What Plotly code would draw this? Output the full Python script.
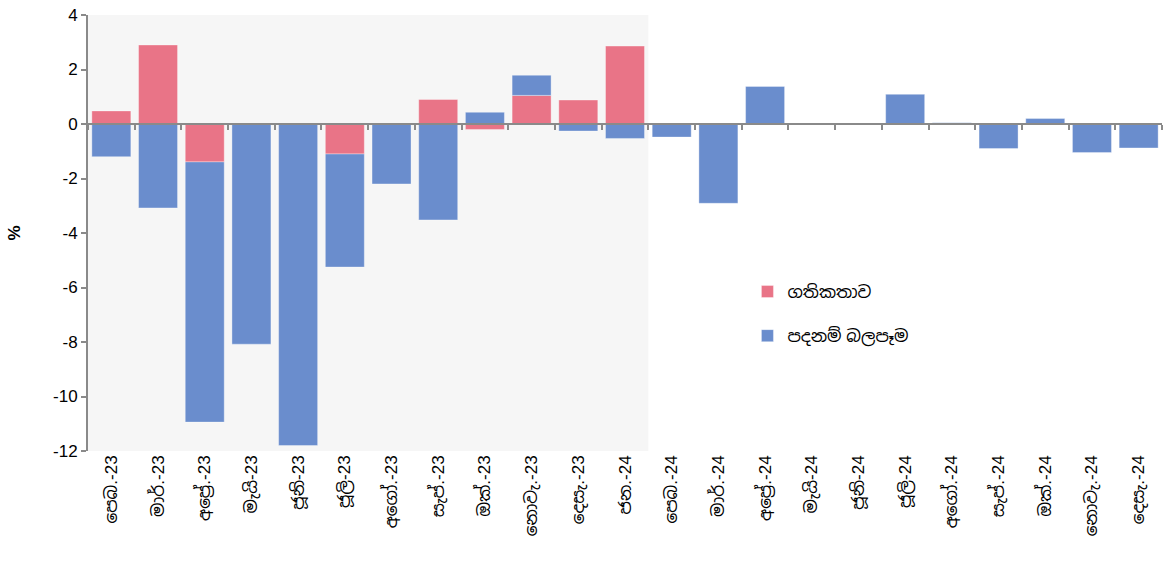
import plotly.graph_objects as go

months = [
    "පෙබ.-23", "මාර්.-23", "අප්‍රේ.-23", "මැයි-23", "ජූනි-23", "ජූලි-23",
    "අගෝ.-23", "සැප්.-23", "ඔක්.-23", "නොවැ.-23", "දෙසැ.-23", "ජන.-24",
    "පෙබ.-24", "මාර්.-24", "අප්‍රේ.-24", "මැයි-24", "ජූනි-24", "ජූලි-24",
    "අගෝ.-24", "සැප්.-24", "ඔක්.-24", "නොවැ.-24", "දෙසැ.-24",
]
momentum = [0.48, 2.9, -1.39, 0.0, 0.0, -1.1, 0.0, 0.9, -0.2, 1.05, 0.88, 2.86,
            0, 0, 0, 0, 0, 0, 0, 0, 0, 0, 0]
base_effect = [-1.2, -3.08, -9.55, -8.08, -11.8, -4.15, -2.2, -3.52, 0.43, 0.74, -0.26, -0.53,
               -0.48, -2.91, 1.38, 0.0, 0.0, 1.09, 0.05, -0.9, 0.2, -1.05, -0.88]
legend_names = ["ගතිකතාව", "පදනම් බලපෑම"]
y_ticks = [4, 2, 0, -2, -4, -6, -8, -10, -12]

FONT = "Arial, Liberation Sans, Noto Sans Sinhala, sans-serif"
AXIS_GREY = "#8a8a8a"

fig = go.Figure()
fig.add_trace(go.Bar(
    x=months, y=momentum, name=legend_names[0], legendgroup="a",
    marker=dict(color="#e97487", line=dict(color="rgba(255,255,255,0.35)", width=1)),
))
fig.add_trace(go.Bar(
    x=months, y=base_effect, name=legend_names[1], legendgroup="b",
    marker=dict(color="#6a8dcd", line=dict(color="rgba(255,255,255,0.35)", width=1)),
))
# invisible carrier for the zero-line axis with boundary ticks
fig.add_trace(go.Scatter(
    x=months, y=[0] * len(months), xaxis="x2", mode="markers",
    marker=dict(opacity=0), showlegend=False, hoverinfo="skip",
))

# shaded 2023 period
fig.add_shape(type="rect", xref="x", yref="y", x0=-0.5, x1=11.5, y0=-12, y1=4,
              fillcolor="#f6f6f6", line=dict(width=0), layer="below")

fig.update_layout(
    width=1163, height=563,
    margin=dict(l=88, r=1, t=15, b=112),
    paper_bgcolor="white", plot_bgcolor="white",
    barmode="relative", bargap=0.165,
    font=dict(family=FONT, size=17, color="black"),
    showlegend=True,
    legend=dict(x=0.614, y=0.406, xanchor="left", yanchor="top",
                bgcolor="rgba(0,0,0,0)", tracegroupgap=19, traceorder="grouped",
                font=dict(size=17)),
    xaxis=dict(
        type="category", range=[-0.5, 22.5], tickangle=-90,
        showline=False, showgrid=False, ticks="", zeroline=False,
        tickfont=dict(size=17),
    ),
    xaxis2=dict(
        type="category", overlaying="x", matches="x", anchor="free", position=0.75,
        showline=True, linecolor=AXIS_GREY, linewidth=2,
        ticks="outside", tickson="boundaries", ticklen=5, tickwidth=2, tickcolor=AXIS_GREY,
        showticklabels=False, showgrid=False, side="bottom",
    ),
    yaxis=dict(
        range=[-12, 4], tickmode="array", tickvals=y_ticks,
        ticktext=[str(v) for v in y_ticks],
        showgrid=False, zeroline=False,
        showline=True, linecolor=AXIS_GREY, linewidth=2,
        ticks="outside", ticklen=5, tickwidth=2, tickcolor=AXIS_GREY,
        tickfont=dict(size=17),
        title=dict(text="<b>%</b>", font=dict(size=17), standoff=28),
    ),
)

fig.write_html("out.html")
